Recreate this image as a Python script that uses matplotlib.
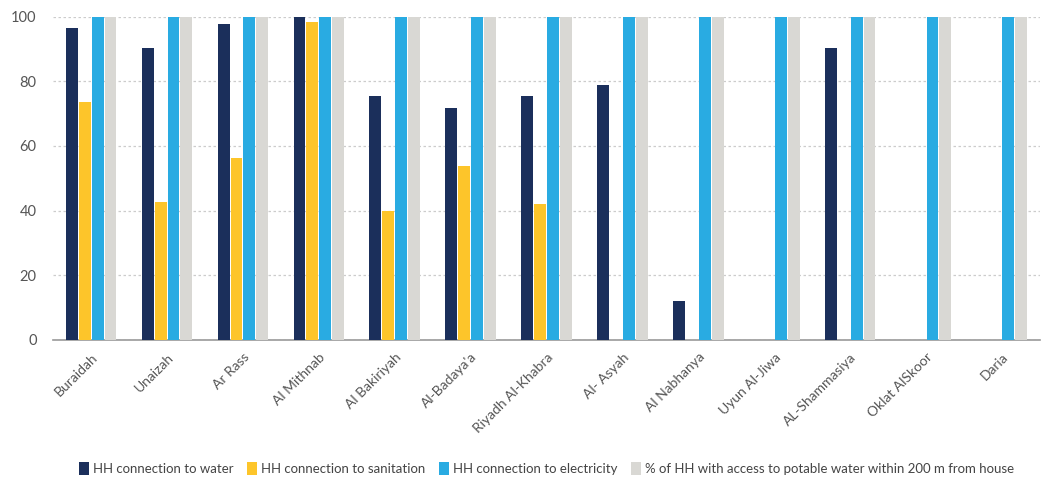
import numpy as np
import matplotlib.pyplot as plt

plt.rcParams['font.family'] = ['Lato', 'DejaVu Sans']

# data
cities = ["Buraidah", "Unaizah", "Ar Rass", "Al Mithnab", "Al Bakiriyah", "Al-Badaya'a",
          "Riyadh Al-Khabra", "Al- Asyah", "Al Nabhanya", "Uyun Al-Jiwa", "AL-Shammasiya",
          "Oklat AlSkoor", "Daria"]
water = [96.4, 90.2, 97.7, 100, 75.6, 71.9, 75.6, 79.0, 11.9, 0, 90.2, 0, 0]
sanitation = [73.6, 42.6, 56.2, 98.5, 40.0, 53.8, 42.1, 0, 0, 0, 0, 0, 0]
electricity = [100, 100, 100, 100, 100, 100, 100, 100, 100, 100, 100, 100, 100]
potable = [100, 100, 100, 100, 100, 100, 100, 100, 100, 100, 100, 100, 100]

series = [
    ("HH connection to water", water, "#1b2f5b"),
    ("HH connection to sanitation", sanitation, "#fdc52a"),
    ("HH connection to electricity", electricity, "#29abe2"),
    ("% of HH with access to potable water within 200 m from house", potable, "#d9d8d4"),
]

fig = plt.figure(figsize=(10.43, 4.78), dpi=100)
ax = fig.add_axes([0.051, 0.289, 0.946, 0.676])

x = np.arange(len(cities))
w = 0.17
for i, (name, vals, col) in enumerate(series):
    ax.bar(x + (i - 1.5) * w, vals, width=w * 0.92, color=col, label=name, zorder=3)

ax.set_xlim(-0.5, len(cities) - 0.5)
ax.set_ylim(0, 100)
ax.set_yticks([0, 20, 40, 60, 80, 100])
ax.yaxis.grid(True, linestyle=(0, (2, 2)), color="#cccccc", linewidth=0.9, zorder=0)
for s in ["top", "right", "left"]:
    ax.spines[s].set_visible(False)
ax.spines["bottom"].set_color("#999999")
ax.spines["bottom"].set_linewidth(1.2)
ax.tick_params(axis="y", length=0, labelsize=10.5, labelcolor="#555555", pad=12)
ax.tick_params(axis="x", length=0, labelsize=10, labelcolor="#555555", pad=8)
ax.set_xticks(x)
ax.set_xticklabels(cities, rotation=45, ha="right", rotation_mode="anchor")

ax.legend(loc="lower center", bbox_to_anchor=(0.5, -0.455), ncol=4, frameon=False,
          fontsize=9.5, labelcolor="#444444", handlelength=0.8, handleheight=1.1,
          handletextpad=0.3, columnspacing=1.0)

fig.savefig("out.png", dpi=100)
